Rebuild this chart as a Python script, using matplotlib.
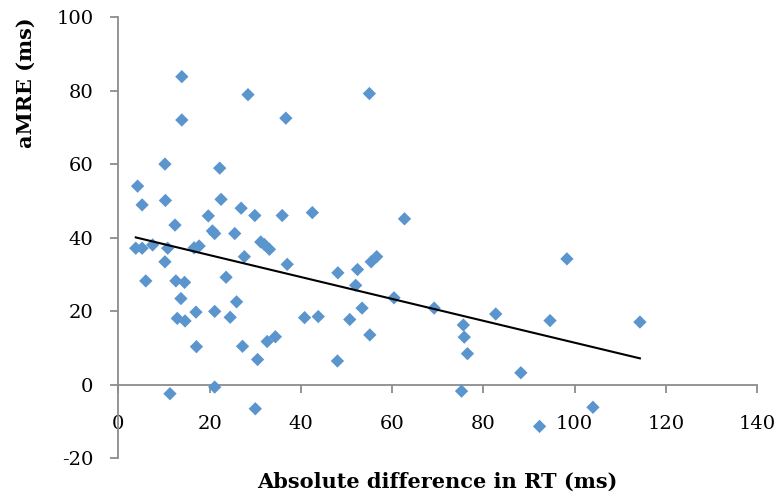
import numpy as np
import matplotlib
matplotlib.use("Agg")
import matplotlib.pyplot as plt

# Data
abs_diff_rt = [13.9, 28.4, 13.9, 36.7, 10.2, 22.2, 4.2, 5.2, 10.3, 22.5, 26.9, 29.9, 35.9, 42.5,
               19.7, 12.4, 20.6, 21.1, 25.5, 3.8, 5.2, 7.5, 10.8, 16.6, 17.7, 31.2, 32.0, 33.1,
               10.2, 27.6, 37.0, 48.1, 6.0, 12.6, 14.5, 23.6, 13.7, 25.9, 17.0, 21.1, 12.9, 14.6,
               24.5, 40.8, 43.8, 17.1, 27.2, 32.6, 34.4, 30.5, 48.0, 21.1, 11.3, 30.0, 55.0, 62.7,
               52.4, 55.4, 56.6, 52.0, 60.4, 69.2, 53.4, 50.7, 55.1, 82.7, 75.6, 75.8, 76.5, 88.2,
               75.2, 92.3, 98.3, 94.6, 114.3, 104.0]
amre = [83.8, 78.9, 72.0, 72.5, 60.0, 58.9, 54.0, 48.9, 50.1, 50.4, 48.0, 46.0, 46.0, 46.8,
        45.9, 43.4, 41.8, 41.1, 41.1, 37.1, 37.1, 38.0, 37.1, 37.2, 37.7, 38.8, 38.1, 36.8,
        33.4, 34.8, 32.7, 30.4, 28.2, 28.2, 27.8, 29.2, 23.4, 22.5, 19.7, 19.9, 18.0, 17.3,
        18.3, 18.2, 18.5, 10.3, 10.4, 11.7, 13.0, 6.8, 6.4, -0.7, -2.5, -6.6, 79.2, 45.1,
        31.3, 33.4, 34.8, 27.0, 23.6, 20.8, 20.8, 17.7, 13.5, 19.2, 16.2, 12.9, 8.4, 3.2,
        -1.8, -11.4, 34.2, 17.4, 17.0, -6.2]
x_ticks = [0, 20, 40, 60, 80, 100, 120, 140]
y_ticks = [-20, 0, 20, 40, 60, 80, 100]

plt.rcParams['font.family'] = ['DejaVu Serif']

fig = plt.figure(figsize=(7.79, 4.97), dpi=100)
ax = fig.add_axes([0.152, 0.0785, 0.820, 0.887])

x = np.array(abs_diff_rt)
y = np.array(amre)
ax.scatter(x, y, marker='D', s=46, color='#5B95CE', edgecolors='none', zorder=3)

slope, intercept = np.polyfit(x, y, 1)
xl = np.array([x.min(), x.max()])
ax.plot(xl, slope * xl + intercept, color='black', lw=1.5, zorder=4)

ax.set_xlim(0, 140)
ax.set_ylim(-20, 100)
ax.set_xticks(x_ticks)
ax.set_yticks(y_ticks)
ax.set_xticklabels([str(t) for t in x_ticks])
ax.set_yticklabels([str(t) for t in y_ticks])

for s in ['top', 'right']:
    ax.spines[s].set_visible(False)
ax.spines['bottom'].set_position(('data', 0))
for s in ['bottom', 'left']:
    ax.spines[s].set_color('#8C8C8C')
    ax.spines[s].set_linewidth(1.3)

ax.tick_params(axis='x', direction='out', length=6, width=1.3, color='#8C8C8C',
               labelsize=14, pad=16)
ax.tick_params(axis='y', direction='out', length=6, width=1.3, color='#8C8C8C',
               labelsize=14, pad=12)

fig.text(0.561, 0.03, 'Absolute difference in RT (ms)', ha='center', va='center',
         fontsize=15, fontweight='bold')
fig.text(0.033, 0.833, 'aMRE (ms)', ha='center', va='center', rotation=90,
         fontsize=15, fontweight='bold')

fig.savefig('out.png', dpi=100)
